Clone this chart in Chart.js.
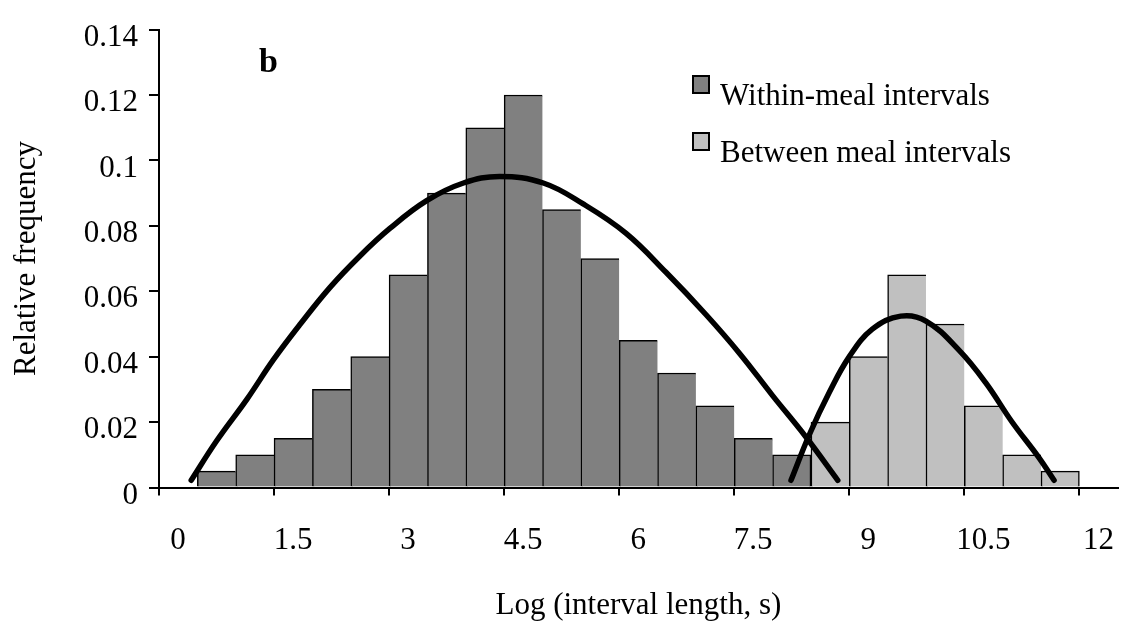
<!DOCTYPE html>
<html>
<head>
<meta charset="utf-8">
<script src="https://cdn.jsdelivr.net/npm/chart.js@4.4.1/dist/chart.umd.min.js"></script>
<style>
  html, body { margin: 0; padding: 0; background: #fff; }
  #wrap { width: 1122px; height: 625px; }
</style>
</head>
<body>
<div id="wrap"><canvas id="chart" width="1122" height="625"></canvas></div>
<script>
// Histogram bins (bin centres on the log-interval axis)
const withinBins = [0.75, 1.25, 1.75, 2.25, 2.75, 3.25, 3.75, 4.25, 4.75, 5.25, 5.75, 6.25, 6.75, 7.25, 7.75, 8.25];
const withinFreq = [0.005, 0.01, 0.015, 0.03, 0.04, 0.065, 0.09, 0.11, 0.12, 0.085, 0.07, 0.045, 0.035, 0.025, 0.015, 0.01];
const betweenBins = [8.75, 9.25, 9.75, 10.25, 10.75, 11.25, 11.75];
const betweenFreq = [0.02, 0.04, 0.065, 0.05, 0.025, 0.01, 0.005];

// Fitted curves
const fit1X = [0.42, 0.75, 1.15, 1.49, 1.84, 2.23, 2.62, 3.01, 3.49, 3.97, 4.44, 5.01, 5.53, 6.09, 6.61, 7.13, 7.57, 8.0, 8.43, 8.85];
const fit1Y = [0.0022, 0.0142, 0.0271, 0.039, 0.0499, 0.0612, 0.0708, 0.0792, 0.0877, 0.0931, 0.0951, 0.0931, 0.0867, 0.0777, 0.0658, 0.0529, 0.041, 0.0281, 0.0156, 0.0022];
const fit2X = [8.24, 8.48, 8.74, 9.0, 9.3, 9.67, 10.0, 10.43, 10.78, 11.12, 11.47, 11.67];
const fit2Y = [0.0022, 0.0162, 0.0291, 0.04, 0.0484, 0.0524, 0.0509, 0.042, 0.032, 0.0201, 0.0092, 0.0022];

// Axis ticks
const xTicks = [0, 1.5, 3, 4.5, 6, 7.5, 9, 10.5, 12];
const xTickLabels = ['0', '1.5', '3', '4.5', '6', '7.5', '9', '10.5', '12'];
const yTicks = [0, 0.02, 0.04, 0.06, 0.08, 0.1, 0.12, 0.14];
const yTickLabels = ['0', '0.02', '0.04', '0.06', '0.08', '0.1', '0.12', '0.14'];

const seriesNames = ['Within-meal intervals', 'Between meal intervals'];
const seriesColors = ['#808080', '#c0c0c0'];

const serif = "'Liberation Serif', 'Times New Roman', serif";
const fontSize = 31;

function barBorder(n) {
    return function(ctx) {
        const last = ctx.dataIndex === n - 1;
        return { top: 1.5, left: 1.5, right: last ? 1.5 : 0, bottom: 0 };
    };
}

// legend + panel letter drawn on the canvas
const annotations = {
    id: 'annotations',
    afterDraw(chart) {
        const c = chart.ctx;
        c.save();
        c.fillStyle = '#000';
        c.font = 'bold 34px ' + serif;
        c.textBaseline = 'alphabetic';
        c.fillText('b', 259, 72);

        c.font = fontSize + 'px ' + serif;
        const rows = [{ y: 76, base: 105 }, { y: 133, base: 162 }];
        rows.forEach((r, i) => {
            c.fillStyle = seriesColors[i];
            c.fillRect(693, r.y, 16, 17);
            c.strokeStyle = '#000';
            c.lineWidth = 2;
            c.strokeRect(693, r.y, 16, 17);
            c.fillStyle = '#000';
            c.fillText(seriesNames[i], 720, r.base);
        });
        c.restore();
    }
};

function curve(xs, ys) {
    return {
        type: 'line',
        data: xs.map((x, i) => ({ x: x, y: ys[i] })),
        borderColor: '#000',
        borderWidth: 5.5,
        borderCapStyle: 'round',
        borderJoinStyle: 'round',
        pointRadius: 0,
        tension: 0.4,
        fill: false,
        order: 0
    };
}

function bars(name, xs, ys, color) {
    return {
        label: name,
        data: xs.map((x, i) => ({ x: x, y: ys[i] })),
        backgroundColor: color,
        borderColor: '#000',
        borderWidth: barBorder(xs.length),
        borderSkipped: false,
        grouped: false,
        barPercentage: 1,
        categoryPercentage: 1,
        order: 1
    };
}

const ctx = document.getElementById('chart');
new Chart(ctx, {
    type: 'bar',
    data: {
        datasets: [
            curve(fit1X, fit1Y),
            curve(fit2X, fit2Y),
            bars(seriesNames[0], withinBins, withinFreq, seriesColors[0]),
            bars(seriesNames[1], betweenBins, betweenFreq, seriesColors[1])
        ]
    },
    options: {
        responsive: false,
        animation: false,
        devicePixelRatio: 1,
        layout: { padding: { top: 0, right: 3, bottom: 0, left: 0 } },
        plugins: {
            legend: { display: false },
            tooltip: { enabled: false }
        },
        scales: {
            x: {
                type: 'linear',
                min: 0,
                max: 12.5,
                offset: false,
                afterBuildTicks: function(axis) {
                    axis.ticks = xTicks.map(v => ({ value: v }));
                },
                afterFit: function(scale) {
                    scale.height = 137.5;
                },
                ticks: {
                    autoSkip: false,
                    maxRotation: 0,
                    labelOffset: 19,
                    padding: 27,
                    color: '#000',
                    font: { family: serif, size: fontSize },
                    callback: function(value, index) {
                        return xTickLabels[index];
                    }
                },
                grid: {
                    offset: false,
                    drawOnChartArea: false,
                    drawTicks: true,
                    tickLength: 8,
                    color: '#000',
                    lineWidth: 2
                },
                border: { display: true, color: '#000', width: 2 },
                title: {
                    display: true,
                    text: 'Log (interval length, s)',
                    color: '#000',
                    font: { family: serif, size: fontSize },
                    padding: { top: 0, bottom: 1 }
                }
            },
            y: {
                min: 0,
                max: 0.14,
                afterBuildTicks: function(axis) {
                    axis.ticks = yTicks.map(v => ({ value: v }));
                },
                afterFit: function(scale) {
                    scale.width = 159;
                },
                ticks: {
                    padding: 11,
                    labelOffset: 8,
                    color: '#000',
                    font: { family: serif, size: fontSize },
                    callback: function(value, index) {
                        return yTickLabels[index];
                    }
                },
                grid: {
                    drawOnChartArea: false,
                    drawTicks: true,
                    tickLength: 10,
                    color: '#000',
                    lineWidth: 2
                },
                border: { display: true, color: '#000', width: 2 },
                title: {
                    display: true,
                    text: 'Relative frequency',
                    color: '#000',
                    font: { family: serif, size: fontSize },
                    padding: { top: 8, bottom: 0 }
                }
            }
        }
    },
    plugins: [annotations]
});
</script>
</body>
</html>
